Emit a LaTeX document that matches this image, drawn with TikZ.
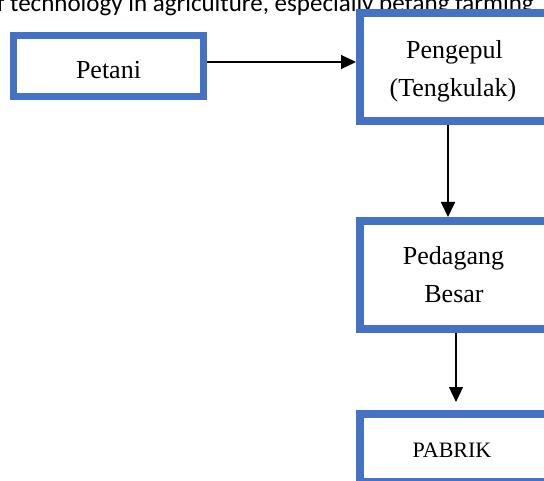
\documentclass[tikz,border=0pt]{standalone}
\usepackage{fontspec}
\setmainfont{Liberation Serif}
\newfontfamily\calibrifont{Carlito}
\usetikzlibrary{arrows.meta}
\definecolor{boxblue}{RGB}{68,114,196}
\newcommand\boxfont{\fontsize{26pt}{30pt}\selectfont}
\newcommand\smallboxfont{\fontsize{22pt}{26pt}\selectfont}
\begin{document}
\begin{tikzpicture}[x=1pt,y=-1pt,
  flowbox/.style={draw=boxblue, fill=white, inner sep=0pt, line width=8pt},
  boxtext/.style={anchor=base, inner sep=0pt, font=\boxfont},
  conn/.style={draw=black, line width=1.2pt, -{Triangle[length=15pt,width=14pt]}}]
\useasboundingbox (0,0) rectangle (544,481);
\clip (0,0) rectangle (544,481);
\fill[white] (0,0) rectangle (544,481);

\node[anchor=base west, inner sep=0pt, font=\calibrifont\fontsize{25pt}{29pt}\selectfont] (toptext) at (-16.5,11.5) {of technology in agriculture, especially petang farming};

% boxes
\node[flowbox, line width=7pt, minimum width=190pt, minimum height=61pt] (petani) at (108.5,66) {};
\node[flowbox, minimum width=190pt, minimum height=108pt] (pengepul) at (455,67.5) {};
\node[flowbox, minimum width=190pt, minimum height=108pt] (pedagang) at (455,275) {};
\node[flowbox, minimum width=190pt, minimum height=68pt] (pabrik) at (455,448) {};

% texts
\node[boxtext] (tpetani) at (108.5,79) {Petani};
\node[boxtext] (tpeng1) at (454.5,59) {Pengepul};
\node[boxtext] (tpeng2) at (453,97) {(Tengkulak)};
\node[boxtext] (tped1) at (453.5,265) {Pedagang};
\node[boxtext] (tped2) at (454,302.7) {Besar};
\node[boxtext, font=\smallboxfont] (tpabrik) at (452,457) {PABRIK};

% connectors
\coordinate (c1) at ([yshift=4pt]petani.east);
\draw[conn] (c1) -- (c1 -| pengepul.west);
\coordinate (c2) at ([xshift=-7pt]pengepul.south);
\draw[conn, line width=1.8pt] (c2) -- (c2 |- pedagang.north);
\coordinate (c3) at ([xshift=1pt]pedagang.south);
\draw[conn, shorten >=8pt] (c3) -- (c3 |- pabrik.north);
\end{tikzpicture}
\end{document}
